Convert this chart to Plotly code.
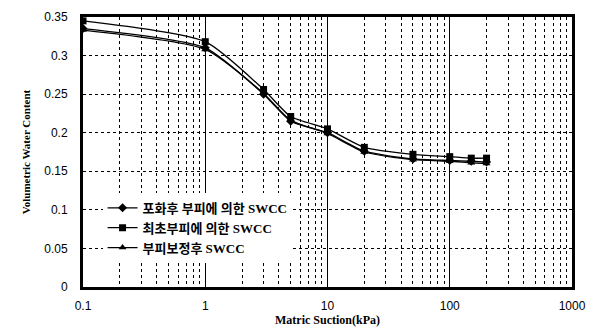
import plotly.graph_objects as go

suction = [0.1, 1, 3, 5, 10, 20, 50, 100, 150, 200]
swcc_sat = [0.335, 0.310, 0.250, 0.215, 0.200, 0.176, 0.166, 0.164, 0.163, 0.162]
swcc_init = [0.345, 0.318, 0.256, 0.221, 0.205, 0.181, 0.172, 0.169, 0.167, 0.167]
swcc_corr = [0.333, 0.308, 0.251, 0.216, 0.199, 0.175, 0.165, 0.163, 0.161, 0.160]
names = ["포화후 부피에 의한 SWCC", "최초부피에 의한 SWCC", "부피보정후 SWCC"]
symbols = ["diamond", "square", "triangle-up"]
y_ticks = [0, 0.05, 0.1, 0.15, 0.2, 0.25, 0.3, 0.35]
y_labels = ["0", "0.05", "0.1", "0.15", "0.2", "0.25", "0.3", "0.35"]
x_ticks = [0.1, 1, 10, 100, 1000]
x_labels = ["0.1", "1", "10", "100", "1000"]
decades = [0.1, 1, 10, 100]
minor_ticks = [d * k for d in decades for k in range(2, 10)]

fig = go.Figure()
for ys, nm, sym in zip([swcc_sat, swcc_init, swcc_corr], names, symbols):
    fig.add_trace(go.Scatter(
        x=suction, y=ys, name=nm, mode="lines+markers",
        line=dict(color="black", width=1.3, shape="spline", smoothing=0.6),
        marker=dict(symbol=sym, size=7, color="black"),
    ))

# page body has an 8px default margin, so the figure is sized to fit the window
fig.update_layout(
    width=593, height=319,
    margin=dict(l=75, r=29, t=9, b=40),
    paper_bgcolor="white", plot_bgcolor="white",
    font=dict(family="Liberation Sans, Arial", size=12, color="black"),
    showlegend=True,
    legend=dict(
        x=0.04, y=0.219, xanchor="left", yanchor="middle",
        bgcolor="white", borderwidth=0,
        font=dict(family="Liberation Serif, Noto Sans CJK KR", size=13, color="black", weight="bold"),
        tracegroupgap=0, itemwidth=30,
    ),
)
fig.update_xaxes(
    type="log", range=[-1, 3],
    tickvals=x_ticks, ticktext=x_labels, ticks="",
    showgrid=True, gridcolor="black", gridwidth=1,
    minor=dict(tickmode="array", tickvals=minor_ticks, showgrid=True,
               gridcolor="black", griddash="dot", gridwidth=1, ticks=""),
    showline=True, linecolor="black", linewidth=3, mirror=True,
    zeroline=False, automargin=False,
    title=dict(text="<b>Matric Suction(kPa)</b>", standoff=2,
               font=dict(family="Liberation Serif", size=12, color="black")),
    tickfont=dict(family="Liberation Sans", size=12),
    ticklabelstandoff=6,
)
fig.update_yaxes(
    range=[0, 0.35],
    tickvals=y_ticks, ticktext=y_labels, ticks="",
    showgrid=True, gridcolor="black", gridwidth=1, griddash="dot",
    showline=True, linecolor="black", linewidth=3, mirror=True,
    zeroline=False, automargin=False,
    title=dict(text="<b>Volumetric Water Content</b>", standoff=12,
               font=dict(family="Liberation Serif", size=11, color="black")),
    tickfont=dict(family="Liberation Sans", size=12),
    ticklabelstandoff=10,
)

fig.write_html("out.html")
